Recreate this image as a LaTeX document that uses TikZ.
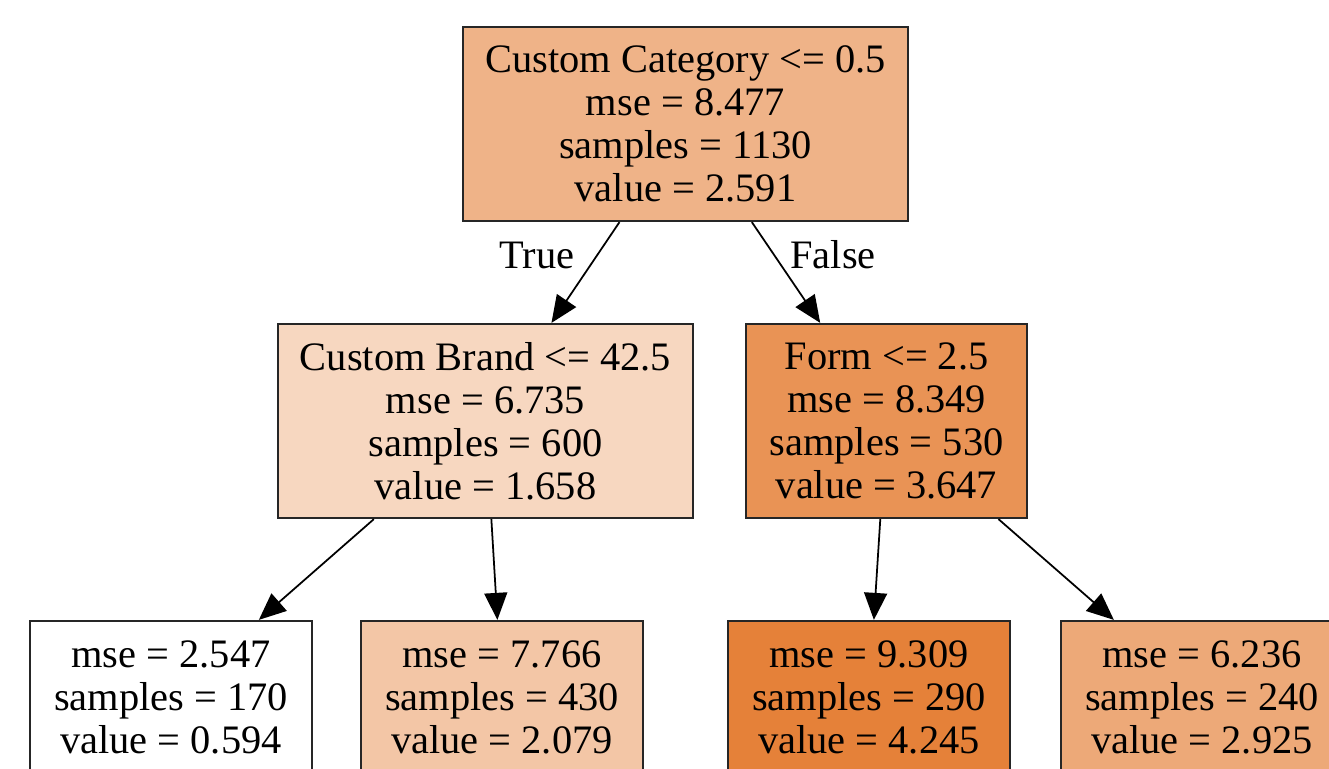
\documentclass[tikz,border=0pt]{standalone}
\usepackage{fontspec}
\setmainfont{Liberation Serif}
\usepackage{xcolor}
\usetikzlibrary{arrows.meta, positioning}
\definecolor{treeorange}{RGB}{229,129,57}

\begin{document}
\begin{tikzpicture}[x=0.02cm, y=-0.02cm,
  splitbox/.style={draw=black!85, line width=1.3pt, inner sep=0pt, align=center,
    minimum height=3.88cm, font=\fontsize{23}{24.5}\selectfont},
  leafbox/.style={splitbox, minimum height=3.04cm, minimum width=5.64cm},
  edgelabel/.style={font=\fontsize{23}{24.5}\selectfont, inner sep=0pt},
  branch/.style={-{Triangle[length=0.54cm, width=0.46cm]}, line width=1pt}]

  \clip (0,0) rectangle (1329,768);
  \fill[white] (0,0) rectangle (1329,768);

  \node[splitbox, fill=treeorange!60, minimum width=8.9cm] (root) at (685.5,124)
  {Custom Category <= 0.5\\mse = 8.477\\samples = 1130\\value = 2.591};

  \node[splitbox, fill=treeorange!32, minimum width=8.3cm] (brand) at (485.5,421)
  {Custom Brand <= 42.5\\mse = 6.735\\samples = 600\\value = 1.658};

  \node[splitbox, fill=treeorange!86, minimum width=5.62cm] (form) at (886.5,421)
  {Form <= 2.5\\mse = 8.349\\samples = 530\\value = 3.647};

  \node[leafbox, fill=white] (leafa) at (171,697)
  {mse = 2.547\\samples = 170\\value = 0.594};

  \node[leafbox, fill=treeorange!45] (leafb) at (502,697)
  {mse = 7.766\\samples = 430\\value = 2.079};

  \node[leafbox, fill=treeorange] (leafc) at (869,697)
  {mse = 9.309\\samples = 290\\value = 4.245};

  \node[leafbox, fill=treeorange!68] (leafd) at (1202,697)
  {mse = 6.236\\samples = 240\\value = 2.925};

  \node[edgelabel] (truelabel) at (537,255) {True};
  \node[edgelabel] (falselabel) at (833,255) {False};

  \draw[branch] (root) -- (brand);
  \draw[branch] (root) -- (form);
  \draw[branch] (brand) -- (leafa);
  \draw[branch] (brand) -- (leafb);
  \draw[branch] (form) -- (leafc);
  \draw[branch] (form) -- (leafd);

\end{tikzpicture}
\end{document}
